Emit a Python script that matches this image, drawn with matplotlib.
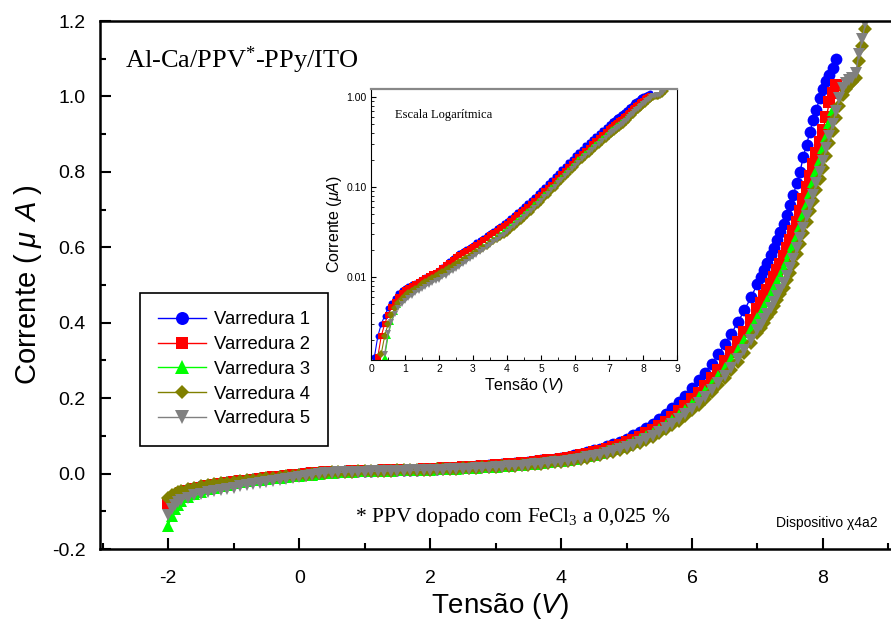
import numpy as np
import matplotlib
matplotlib.use('Agg')
import matplotlib.pyplot as plt
from matplotlib.ticker import MultipleLocator, FixedLocator, FormatStrFormatter, NullFormatter, LogLocator

plt.rcParams['font.family'] = 'Liberation Sans'
plt.rcParams['axes.unicode_minus'] = False
plt.rcParams['mathtext.fontset'] = 'custom'
plt.rcParams['mathtext.rm'] = 'Liberation Sans'
plt.rcParams['mathtext.it'] = 'Liberation Sans:italic'

# sweep voltages (V)
volts = [-2.0, -1.95, -1.9, -1.85,
         -1.8, -1.7, -1.6, -1.5, -1.4, -1.3, -1.2, -1.1, -1.0, -0.9, -0.8, -0.7, -0.6, -0.5, -0.4, -0.3, -0.2, -0.1,
         0.0, 0.1, 0.2, 0.3, 0.4, 0.5, 0.6, 0.7, 0.8, 0.9, 1.0, 1.1, 1.2, 1.3, 1.4, 1.5, 1.6, 1.7, 1.8, 1.9,
         2.0, 2.1, 2.2, 2.3, 2.4, 2.5, 2.6, 2.7, 2.8, 2.9, 3.0, 3.1, 3.2, 3.3, 3.4, 3.5, 3.6, 3.7, 3.8, 3.9,
         4.0, 4.1, 4.2, 4.3, 4.4, 4.5, 4.6, 4.7, 4.8, 4.9, 5.0, 5.1, 5.2, 5.3, 5.4, 5.5, 5.6, 5.7, 5.8, 5.9,
         6.0, 6.1, 6.2, 6.3, 6.4, 6.5, 6.6, 6.7, 6.8, 6.9, 7.0,
         7.05, 7.1, 7.15, 7.2, 7.25, 7.3, 7.35, 7.4, 7.45, 7.5, 7.55, 7.6, 7.65, 7.7, 7.75, 7.8, 7.85, 7.9,
         7.95, 8.0, 8.05, 8.1, 8.15, 8.2, 8.25, 8.3, 8.35, 8.4, 8.45, 8.5, 8.55, 8.6, 8.65]

# current (uA) for each sweep, same order as volts
varredura1 = [-0.070, -0.062, -0.057, -0.053,
              -0.049, -0.043, -0.038, -0.034, -0.031, -0.028, -0.025, -0.023, -0.021, -0.019, -0.017, -0.015, -0.013, -0.011, -0.009, -0.007, -0.0055, -0.0035,
              -0.0015, 0.0013, 0.0022, 0.0030, 0.0037, 0.0045, 0.0052, 0.0059, 0.0066, 0.0071, 0.0075, 0.0079, 0.0083, 0.0087, 0.0091, 0.0095, 0.0099, 0.0103, 0.0108, 0.0114,
              0.0120, 0.0129, 0.0139, 0.0150, 0.0161, 0.0173, 0.0186, 0.0196, 0.0206, 0.0217, 0.0229, 0.0243, 0.0258, 0.0274, 0.0291, 0.0309, 0.0329, 0.0350, 0.0372, 0.0395,
              0.0420, 0.0452, 0.0487, 0.0525, 0.0567, 0.0613, 0.0664, 0.0720, 0.0782, 0.0850, 0.0925, 0.1012, 0.1107, 0.1210, 0.1324, 0.1448, 0.1583, 0.1732, 0.1894, 0.2070,
              0.226, 0.247, 0.268, 0.291, 0.316, 0.343, 0.371, 0.401, 0.433, 0.467, 0.503,
              0.521, 0.540, 0.559, 0.579, 0.599, 0.620, 0.641, 0.663, 0.686, 0.712, 0.740, 0.770, 0.800, 0.840, 0.872, 0.905, 0.937, 0.965,
              0.995, 1.020, 1.040, 1.058, 1.075, 1.100]
varredura2 = [-0.078, -0.068, -0.061, -0.056,
              -0.052, -0.046, -0.041, -0.037, -0.0335, -0.0305, -0.0275, -0.025, -0.0225, -0.0205, -0.0185, -0.0165, -0.0145, -0.0122, -0.0100, -0.0082, -0.0062, -0.0043,
              -0.0025, -0.0005, 0.0013, 0.0022, 0.0030, 0.0038, 0.0046, 0.0053, 0.0060, 0.0066, 0.0071, 0.0075, 0.0079, 0.0084, 0.0089, 0.0093, 0.0097, 0.0102, 0.0107, 0.0112,
              0.0118, 0.0126, 0.0135, 0.0145, 0.0155, 0.0166, 0.0177, 0.0186, 0.0195, 0.0205, 0.0215, 0.0228, 0.0242, 0.0257, 0.0273, 0.0290, 0.0308, 0.0328, 0.0348, 0.0370,
              0.0393, 0.0421, 0.0452, 0.0485, 0.0522, 0.0562, 0.0606, 0.0655, 0.0708, 0.0766, 0.0826, 0.0900, 0.0980, 0.1067, 0.1163, 0.1267, 0.1380, 0.1510, 0.1650, 0.1800,
              0.1965, 0.2148, 0.2330, 0.2530, 0.2748, 0.2983, 0.3226, 0.3487, 0.3765, 0.4061, 0.4374,
              0.453, 0.470, 0.486, 0.503, 0.521, 0.539, 0.557, 0.577, 0.597, 0.619, 0.643, 0.668, 0.696, 0.728, 0.760, 0.790, 0.820, 0.850,
              0.880, 0.912, 0.945, 0.985, 1.010, 1.030]
varredura3 = [-0.138, -0.112, -0.095, -0.083,
              -0.074, -0.063, -0.055, -0.048, -0.042, -0.037, -0.033, -0.029, -0.026, -0.023, -0.0205, -0.018, -0.016, -0.014, -0.0122, -0.0105, -0.0088, -0.0071,
              -0.0055, -0.0040, -0.0025, -0.0010, 0.0013, 0.0022, 0.0032, 0.0041, 0.0049, 0.0056, 0.0061, 0.0066, 0.0070, 0.0074, 0.0078, 0.0082, 0.0087, 0.0092, 0.0097, 0.0102,
              0.0107, 0.0112, 0.0118, 0.0124, 0.0131, 0.0138, 0.0146, 0.0154, 0.0163, 0.0173, 0.0184, 0.0196, 0.0208, 0.0222, 0.0236, 0.0251, 0.0267, 0.0285, 0.0303, 0.0323,
              0.0344, 0.0370, 0.0399, 0.0430, 0.0465, 0.0502, 0.0544, 0.0590, 0.0641, 0.0697, 0.0758, 0.0830, 0.0907, 0.0992, 0.1085, 0.1187, 0.1298, 0.1420, 0.1552, 0.1697,
              0.1852, 0.2025, 0.2197, 0.2385, 0.2590, 0.2811, 0.3041, 0.3287, 0.3549, 0.3828, 0.4123,
              0.427, 0.443, 0.458, 0.475, 0.491, 0.508, 0.525, 0.544, 0.563, 0.584, 0.607, 0.631, 0.657, 0.685, 0.714, 0.743, 0.772, 0.802,
              0.832, 0.862, 0.893, 0.930, 0.965]
varredura4 = [-0.065, -0.058, -0.053, -0.049,
              -0.046, -0.041, -0.037, -0.034, -0.031, -0.028, -0.026, -0.024, -0.022, -0.020, -0.018, -0.0165, -0.015, -0.0128, -0.0105, -0.0090, -0.0073, -0.0057,
              -0.0040, -0.0025, -0.0008, 0.0014, 0.0022, 0.0030, 0.0038, 0.0045, 0.0051, 0.0057, 0.0062, 0.0066, 0.0070, 0.0074, 0.0078, 0.0083, 0.0088, 0.0093, 0.0098, 0.0103,
              0.0108, 0.0114, 0.0120, 0.0126, 0.0133, 0.0140, 0.0147, 0.0155, 0.0163, 0.0172, 0.0181, 0.0191, 0.0201, 0.0212, 0.0224, 0.0237, 0.0250, 0.0263, 0.0278, 0.0294,
              0.0311, 0.0335, 0.0361, 0.0389, 0.0420, 0.0454, 0.0492, 0.0533, 0.0579, 0.0630, 0.0685, 0.0750, 0.0820, 0.0896, 0.0981, 0.1073, 0.1173, 0.1283, 0.1403, 0.1533,
              0.1674, 0.1830, 0.1985, 0.2156, 0.2341, 0.2541, 0.2748, 0.2970, 0.3207, 0.3459, 0.3726,
              0.386, 0.400, 0.414, 0.428, 0.444, 0.459, 0.476, 0.493, 0.512, 0.533, 0.556, 0.582, 0.609, 0.637, 0.666, 0.695, 0.723, 0.752,
              0.782, 0.811, 0.843, 0.876, 0.909, 0.942, 0.975, 1.003, 1.020, 1.030, 1.038, 1.050, 1.095, 1.135, 1.178]
varredura5 = [-0.110, -0.093, -0.083, -0.076,
              -0.071, -0.064, -0.058, -0.054, -0.050, -0.047, -0.044, -0.041, -0.038, -0.034, -0.031, -0.028, -0.025, -0.022, -0.019, -0.0165, -0.014, -0.0115,
              -0.0090, -0.0060, -0.0030, -0.0005, 0.0014, 0.0024, 0.0032, 0.0039, 0.0045, 0.0050, 0.0054, 0.0058, 0.0062, 0.0066, 0.0070, 0.0074, 0.0078, 0.0082, 0.0086, 0.0090,
              0.0094, 0.0099, 0.0104, 0.0110, 0.0116, 0.0123, 0.0130, 0.0138, 0.0147, 0.0157, 0.0167, 0.0178, 0.0189, 0.0201, 0.0214, 0.0228, 0.0243, 0.0259, 0.0276, 0.0294,
              0.0318, 0.0342, 0.0369, 0.0398, 0.0430, 0.0464, 0.0503, 0.0545, 0.0592, 0.0644, 0.0701, 0.0767, 0.0839, 0.0917, 0.1003, 0.1097, 0.1199, 0.1312, 0.1435, 0.1568,
              0.1712, 0.1871, 0.2030, 0.2205, 0.2394, 0.2598, 0.2811, 0.3038, 0.3280, 0.3538, 0.3811,
              0.395, 0.409, 0.423, 0.438, 0.454, 0.470, 0.487, 0.505, 0.525, 0.546, 0.570, 0.597, 0.624, 0.652, 0.682, 0.712, 0.740, 0.770,
              0.800, 0.829, 0.862, 0.895, 0.928, 0.962, 0.995, 1.022, 1.035, 1.043, 1.050, 1.062, 1.112, 1.152, 1.195]

labels = ['Varredura 1', 'Varredura 2', 'Varredura 3', 'Varredura 4', 'Varredura 5']
sweeps = [varredura1, varredura2, varredura3, varredura4, varredura5]
colors = ['#0000ff', '#ff0000', '#00ff00', '#808000', '#808080']
markers = ['o', 's', '^', 'D', 'v']
msizes = [8.5, 8.0, 9.0, 6.8, 9.0]

fig = plt.figure(figsize=(8.91, 6.2), dpi=100)
ax = fig.add_axes([0.1117, 0.1145, 0.8883, 0.8516])

for cur, c, m, ms, lab in zip(sweeps, colors, markers, msizes, labels):
    v = volts[:len(cur)]
    ax.plot(v, cur, color=c, marker=m, markersize=ms, markeredgewidth=0,
            linewidth=1.0, label=lab)

ax.set_xlim(-3.05, 9.04)
ax.set_ylim(-0.2, 1.2)
ax.xaxis.set_major_locator(MultipleLocator(2))
ax.xaxis.set_minor_locator(MultipleLocator(1))
ax.yaxis.set_major_locator(MultipleLocator(0.2))
ax.yaxis.set_minor_locator(MultipleLocator(0.1))
ax.yaxis.set_major_formatter(FormatStrFormatter('%.1f'))
ax.tick_params(which='both', direction='in', labelsize=14, width=1.5)
ax.tick_params(which='major', length=8)
ax.tick_params(which='minor', length=4.5)
ax.tick_params(axis='x', pad=15)
ax.tick_params(axis='y', pad=10)
for s in ['left', 'bottom', 'top']:
    ax.spines[s].set_linewidth(1.8)
ax.spines['right'].set_visible(False)

ax.set_xlabel('Tensão ($V$)', fontsize=20)
ax.set_ylabel('Corrente ($\\;\\mu\\;\\,A\\;$)', fontsize=21)
ax.xaxis.set_label_coords(0.506, -0.079)
ax.yaxis.set_label_coords(-0.07, 0.5)

leg = ax.legend(loc='upper left', bbox_to_anchor=(0.051, 0.485), frameon=True,
                fancybox=False, edgecolor='black', framealpha=1, fontsize=13.3,
                handlelength=2.6, handletextpad=0.4, labelspacing=0.42,
                borderpad=1.0, borderaxespad=0, markerscale=1.1)
leg.get_frame().set_linewidth(1.2)

ax.text(0.032, 0.911, 'Al-Ca/PPV$\\mathregular{^{*}}$-PPy/ITO', transform=ax.transAxes,
        family='Liberation Serif', fontsize=19, va='baseline')
ax.text(0.323, 0.051, '* PPV dopado com $\\mathregular{FeCl_3}$ a 0,025 %', transform=ax.transAxes,
        family='Liberation Serif', fontsize=15.5, va='baseline')
ax.text(0.9836, 0.042, 'Dispositivo χ4a2', transform=ax.transAxes,
        fontsize=10, ha='right', va='baseline')

# inset, log scale
ins = fig.add_axes([0.4164, 0.4194, 0.3434, 0.4371])
for cur, c, m, lab in zip(sweeps, colors, markers, labels):
    v = np.array(volts[:len(cur)])
    i = np.array(cur)
    keep = i > 0
    ins.plot(v[keep], i[keep], color=c, marker=m, markersize=4.3, markeredgewidth=0, linewidth=0.8)
ins.set_yscale('log')
ins.set_xlim(0, 9)
ins.set_ylim(0.0012, 1.23)
ins.xaxis.set_major_locator(MultipleLocator(1))
ins.xaxis.set_minor_locator(MultipleLocator(0.5))
ins.yaxis.set_major_locator(FixedLocator([0.01, 0.1, 1.0]))
ins.yaxis.set_major_formatter(FormatStrFormatter('%.2f'))
ins.yaxis.set_minor_locator(LogLocator(base=10, subs=np.arange(2, 10)))
ins.yaxis.set_minor_formatter(NullFormatter())
ins.tick_params(which='both', direction='in', labelsize=7.5, pad=3)
ins.tick_params(which='major', length=3.5)
ins.tick_params(which='minor', length=2)
ins.spines['top'].set_color('#888888')
ins.spines['top'].set_linewidth(1.6)
ins.set_xlabel('Tensão ($V$)', fontsize=11.5, labelpad=1)
ins.set_ylabel('Corrente ($\\mu A$)', fontsize=11.5, labelpad=2)
ins.text(0.078, 0.893, 'Escala Logarítmica', transform=ins.transAxes,
         family='Liberation Serif', fontsize=9, va='baseline')

fig.savefig('out.png', dpi=100)
